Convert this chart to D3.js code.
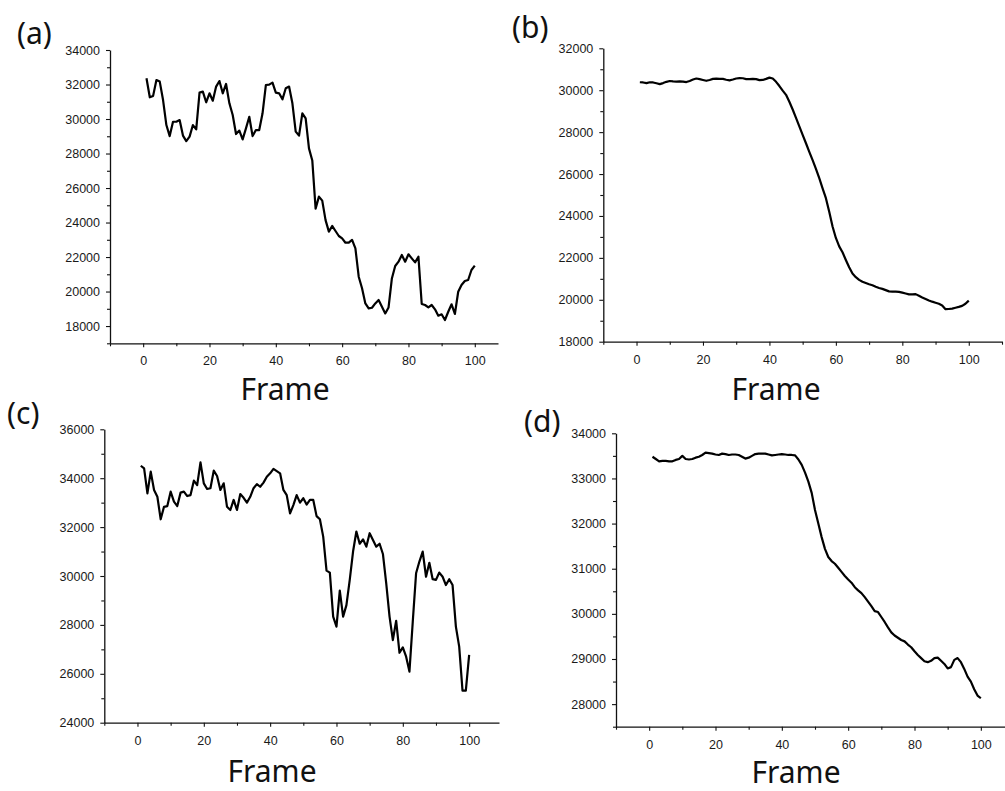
<!DOCTYPE html>
<html>
<head>
<meta charset="utf-8">
<script src="https://cdn.jsdelivr.net/npm/d3@7"></script>
<style>
  body { margin: 0; background: #fff; }
</style>
</head>
<body>
<div id="chart"></div>
<script>
// frame index shared by all four panels
const frames = d3.range(1, 101)

const seriesA = [32360, 31260, 31340, 32260, 32170, 31100, 29650, 29010, 29840, 29840,
    29940, 29040, 28720, 28980, 29650, 29400, 31530, 31590, 30970, 31490,
    31060, 31880, 32200, 31490, 32030, 30910, 30230, 29130, 29330, 28820,
    29460, 30130, 29010, 29360, 29360, 30330, 31970, 31990, 32110, 31530,
    31490, 31140, 31780, 31880, 30910, 29270, 29040, 30330, 30040, 28300,
    27600, 24800, 25500, 25270, 24140, 23470, 23800, 23510, 23220, 23080,
    22830, 22830, 22990, 22500, 20860, 20190, 19310, 19020, 19060, 19310,
    19510, 19120, 18730, 19080, 20760, 21480, 21730, 22120, 21730, 22160,
    21920, 21690, 22020, 19280, 19220, 19080, 19220, 18970, 18600, 18680,
    18350, 18830, 19260, 18700, 19990, 20380, 20610, 20670, 21250, 21500]

const seriesB = [30380, 30370, 30340, 30380, 30370, 30330, 30290, 30340, 30400, 30440,
    30420, 30410, 30420, 30410, 30390, 30440, 30510, 30560, 30530, 30490,
    30450, 30490, 30540, 30550, 30540, 30540, 30500, 30470, 30510, 30560,
    30580, 30570, 30530, 30530, 30540, 30530, 30480, 30490, 30540, 30600,
    30560, 30400, 30200, 29980, 29780, 29450, 29080, 28680, 28270, 27870,
    27470, 27060, 26660, 26250, 25800, 25320, 24850, 24200, 23500, 22950,
    22550, 22270, 21900, 21550, 21250, 21080, 20950, 20860, 20800, 20740,
    20690, 20620, 20560, 20520, 20460, 20400, 20390, 20390, 20380, 20340,
    20300, 20260, 20260, 20270, 20190, 20110, 20040, 19970, 19910, 19860,
    19810, 19730, 19550, 19560, 19580, 19620, 19660, 19710, 19810, 19960]

const seriesC = [34510, 34400, 33380, 34270, 33520, 33240, 32320, 32830, 32860, 33450,
    33040, 32860, 33410, 33450, 33270, 33310, 33900, 33720, 34650, 33790,
    33560, 33590, 34310, 34090, 33520, 33790, 32830, 32700, 33110, 32700,
    33350, 33200, 33000, 33240, 33590, 33760, 33650, 33820, 34060, 34200,
    34380, 34290, 34200, 33520, 33310, 32560, 32900, 33310, 33000, 33180,
    32920, 33110, 33110, 32450, 32320, 31610, 30220, 30140, 28340, 27930,
    29400, 28340, 28810, 29840, 31000, 31820, 31320, 31500, 31200, 31750,
    31470, 31200, 31320, 30900, 29700, 28340, 27380, 28170, 26860, 27080,
    26700, 26090, 28130, 30110, 30590, 31000, 29970, 30540, 29870, 29840,
    30140, 29970, 29630, 29870, 29630, 27930, 27110, 25310, 25310, 26770]

const seriesD = [33480, 33430, 33380, 33390, 33390, 33380, 33380, 33410, 33430, 33500,
    33430, 33420, 33430, 33460, 33480, 33520, 33570, 33560, 33550, 33530,
    33520, 33550, 33540, 33520, 33530, 33530, 33520, 33480, 33440, 33460,
    33500, 33540, 33550, 33550, 33550, 33530, 33510, 33520, 33530, 33540,
    33530, 33520, 33520, 33510, 33420, 33300, 33130, 32930, 32680, 32300,
    32000, 31700, 31440, 31260, 31170, 31110, 31020, 30930, 30840, 30760,
    30690, 30590, 30520, 30460, 30370, 30270, 30170, 30060, 30040, 29930,
    29820, 29700, 29590, 29520, 29470, 29420, 29390, 29320, 29260, 29170,
    29090, 29020, 28950, 28930, 28960, 29020, 29030, 28960, 28890, 28790,
    28820, 28980, 29020, 28930, 28780, 28610, 28500, 28330, 28190, 28130]

const panelLabels = ["(a)", "(b)", "(c)", "(d)"]
const xTitle = "Frame"
const xMajorTicks = [0, 20, 40, 60, 80, 100]

const width = 1005,
    height = 791;

const svg = d3.select("#chart")
    .append("svg")
    .attr("width", width)
    .attr("height", height)
    .style("font-family", "'Liberation Sans', Arial, sans-serif")

// layout of each panel (pixel boxes and axis extents)
const panels = [
    { data: seriesA, label: panelLabels[0], lx: 17, ly: 44, titleX: 285, titleY: 400,
      xDom: [-10, 107], xR: [110, 498], yDom: [17000, 34000], yR: [343.3, 50], yStep: 2000 },
    { data: seriesB, label: panelLabels[1], lx: 512, ly: 38, titleX: 776, titleY: 400,
      xDom: [-10, 110], xR: [603.3, 1002], yDom: [18000, 32000], yR: [341.7, 48.3], yStep: 2000 },
    { data: seriesC, label: panelLabels[2], lx: 7, ly: 424, titleX: 272, titleY: 782,
      xDom: [-10, 109], xR: [104.3, 499], yDom: [24000, 36000], yR: [722.7, 429.3], yStep: 2000 },
    { data: seriesD, label: panelLabels[3], lx: 524, ly: 432, titleX: 796, titleY: 783,
      xDom: [-10, 110], xR: [616, 1014], yDom: [27500, 34000], yR: [726.7, 433.3], yStep: 1000 }
]

panels.forEach(function (p) {
    const x = d3.scaleLinear().domain(p.xDom).range(p.xR)
    const y = d3.scaleLinear().domain(p.yDom).range(p.yR)

    const xOrigin = p.xR[0],
        yOrigin = p.yR[0];

    // y ticks: majors with labels, minors halfway
    const yMajor = d3.range(Math.ceil(p.yDom[0] / p.yStep) * p.yStep, p.yDom[1] + 1, p.yStep)
    const yMinor = d3.range(Math.ceil(p.yDom[0] / (p.yStep / 2)) * (p.yStep / 2), p.yDom[1] + 1, p.yStep / 2)
        .filter(v => yMajor.indexOf(v) < 0)
    const xMinor = d3.range(p.xDom[0], p.xDom[1] + 1, 10).filter(v => xMajorTicks.indexOf(v) < 0)

    const g = svg.append("g")

    g.append("g")
        .attr("transform", `translate(${xOrigin},0)`)
        .call(d3.axisLeft(y).tickValues(yMajor).tickSize(4).tickSizeOuter(0)
            .tickPadding(6).tickFormat(d3.format("d")))
    g.append("g")
        .attr("transform", `translate(${xOrigin},0)`)
        .call(d3.axisLeft(y).tickValues(yMinor).tickSize(3).tickSizeOuter(0).tickFormat(""))
        .call(a => a.select(".domain").remove())

    g.append("g")
        .attr("transform", `translate(0,${yOrigin})`)
        .call(d3.axisBottom(x).tickValues(xMajorTicks).tickSize(4).tickSizeOuter(0)
            .tickPadding(9).tickFormat(d3.format("d")))
    g.append("g")
        .attr("transform", `translate(0,${yOrigin})`)
        .call(d3.axisBottom(x).tickValues(xMinor).tickSize(3).tickSizeOuter(0).tickFormat(""))
        .call(a => a.select(".domain").remove())

    g.selectAll(".domain").attr("stroke", "#111").attr("stroke-width", 1.3)
    g.selectAll(".tick line").attr("stroke", "#111").attr("stroke-width", 1.1)
    g.selectAll(".tick text")
        .attr("fill", "#1a1a1a")
        .style("font-size", "12.5px")
        .style("font-family", "'Liberation Sans', Arial, sans-serif")

    const line = d3.line()
        .x((d, i) => x(frames[i]))
        .y(d => y(d))

    g.append("path")
        .datum(p.data)
        .attr("d", line)
        .attr("fill", "none")
        .attr("stroke", "#000")
        .attr("stroke-width", 2.2)
        .attr("stroke-linejoin", "round")

    g.append("text")
        .attr("x", p.titleX)
        .attr("y", p.titleY)
        .attr("text-anchor", "middle")
        .style("font-family", "'Noto Sans', 'Open Sans', sans-serif")
        .style("font-size", "30px")
        .attr("fill", "#111")
        .text(xTitle)

    g.append("text")
        .attr("x", p.lx)
        .attr("y", p.ly)
        .style("font-family", "'Noto Sans', 'Open Sans', sans-serif")
        .style("font-size", "30px")
        .attr("fill", "#111")
        .text(p.label)
})
</script>
</body>
</html>
